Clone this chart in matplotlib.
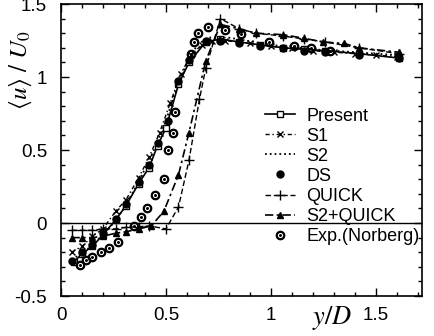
import matplotlib
matplotlib.use('Agg')
import matplotlib.pyplot as plt
from matplotlib.ticker import MultipleLocator, FuncFormatter

plt.rcParams['font.family'] = ['Liberation Sans', 'DejaVu Sans']
plt.rcParams['mathtext.fontset'] = 'stix'

present_x = [0.06, 0.10, 0.15, 0.20, 0.26, 0.31, 0.37, 0.42, 0.46, 0.50, 0.56, 0.61, 0.69, 0.76, 0.85, 0.95, 1.06, 1.16, 1.26, 1.42, 1.61]
present_y = [-0.27, -0.21, -0.16, -0.08, 0.02, 0.12, 0.27, 0.38, 0.53, 0.65, 0.95, 1.10, 1.24, 1.26, 1.24, 1.22, 1.20, 1.19, 1.18, 1.16, 1.13]

ds_x = [0.05, 0.10, 0.15, 0.20, 0.26, 0.31, 0.37, 0.42, 0.46, 0.51, 0.56, 0.61, 0.69, 0.76, 0.85, 0.95, 1.06, 1.16, 1.26, 1.42, 1.61]
ds_y = [-0.26, -0.20, -0.15, -0.07, 0.03, 0.13, 0.28, 0.40, 0.55, 0.70, 0.97, 1.12, 1.25, 1.25, 1.23, 1.21, 1.20, 1.18, 1.17, 1.15, 1.13]

s1_x = [0.05, 0.10, 0.15, 0.20, 0.26, 0.31, 0.37, 0.42, 0.47, 0.52, 0.57, 0.62, 0.67, 0.72, 0.78, 0.90, 1.00, 1.10, 1.20, 1.30, 1.40, 1.50, 1.60]
s1_y = [-0.20, -0.16, -0.09, -0.04, 0.08, 0.16, 0.31, 0.45, 0.62, 0.82, 1.02, 1.15, 1.22, 1.25, 1.25, 1.23, 1.21, 1.20, 1.18, 1.17, 1.16, 1.15, 1.14]

s2_x = [0.05, 0.10, 0.15, 0.20, 0.25, 0.30, 0.35, 0.40, 0.45, 0.50, 0.55, 0.60, 0.65, 0.70, 0.80, 1.00, 1.20, 1.40, 1.60]
s2_y = [-0.25, -0.21, -0.15, -0.08, 0.00, 0.10, 0.23, 0.37, 0.52, 0.70, 0.92, 1.10, 1.22, 1.27, 1.27, 1.22, 1.19, 1.17, 1.15]

quick_x = [0.05, 0.10, 0.15, 0.20, 0.26, 0.31, 0.37, 0.42, 0.50, 0.56, 0.61, 0.66, 0.69, 0.76, 0.85, 0.93, 1.06, 1.16, 1.26, 1.42, 1.61]
quick_y = [-0.05, -0.05, -0.05, -0.04, -0.04, -0.03, -0.025, -0.02, -0.04, 0.11, 0.43, 0.85, 1.06, 1.40, 1.33, 1.30, 1.28, 1.26, 1.24, 1.20, 1.16]

s2q_x = [0.05, 0.10, 0.15, 0.20, 0.26, 0.31, 0.37, 0.43, 0.49, 0.56, 0.61, 0.69, 0.76, 0.85, 0.93, 1.06, 1.16, 1.25, 1.35, 1.42, 1.61]
s2q_y = [-0.10, -0.10, -0.10, -0.09, -0.07, -0.06, -0.04, -0.02, 0.08, 0.33, 0.62, 1.11, 1.36, 1.33, 1.30, 1.29, 1.265, 1.24, 1.23, 1.20, 1.17]

exp_x = [0.09, 0.12, 0.15, 0.19, 0.23, 0.27, 0.35, 0.38, 0.41, 0.45, 0.49, 0.51, 0.535, 0.545, 0.62, 0.635, 0.655, 0.70, 0.78, 0.86, 0.99, 1.11, 1.19, 1.28]
exp_y = [-0.29, -0.25, -0.235, -0.20, -0.17, -0.13, -0.02, 0.04, 0.10, 0.19, 0.30, 0.50, 0.62, 0.76, 1.16, 1.24, 1.30, 1.345, 1.32, 1.295, 1.24, 1.21, 1.20, 1.18]

fig = plt.figure(figsize=(4.34, 3.36), dpi=100)
ax = fig.add_axes([0.1406, 0.119, 0.8314, 0.869])

ax.axhline(0, color='black', lw=1.0)

ax.plot(present_x, present_y, 'k-', marker='s', mfc='white', ms=5, lw=1.2, label='Present')
ax.plot(s1_x, s1_y, color='black', ls=(0, (3, 2, 1, 2)), marker='x', ms=5, lw=1.0, label='S1')
ax.plot(s2_x, s2_y, color='black', ls=':', lw=1.3, label='S2')
ax.plot(ds_x, ds_y, 'ko', ms=5, ls='none', label='DS')
ax.plot(quick_x, quick_y, color='black', ls=(0, (4, 2)), marker='+', ms=7, lw=1.0, label='QUICK')
ax.plot(s2q_x, s2q_y, color='black', ls=(0, (5, 2, 1.5, 2)), marker='^', ms=5, lw=1.2, label='S2+QUICK')
ax.plot(exp_x, exp_y, color='black', ls='none', marker=r'$\odot$', ms=6, label='Exp.(Norberg)')

ax.set_xlim(0, 1.72)
ax.set_ylim(-0.5, 1.5)
ax.xaxis.set_major_locator(MultipleLocator(0.5))
ax.xaxis.set_minor_locator(MultipleLocator(0.1))
ax.yaxis.set_major_locator(MultipleLocator(0.5))
ax.yaxis.set_minor_locator(MultipleLocator(0.1))
fmt = FuncFormatter(lambda v, p: '%g' % v)
ax.xaxis.set_major_formatter(fmt)
ax.yaxis.set_major_formatter(fmt)
ax.tick_params(which='both', direction='in', top=True, right=True, labelsize=13.5, width=1.0)
ax.tick_params(axis='y', which='major', length=6, pad=10)
ax.tick_params(axis='x', which='major', length=6, pad=8)
ax.tick_params(which='minor', length=3)
for s in ax.spines.values():
    s.set_linewidth(1.2)

fig.text(0.048, 0.79, r'$\langle u\rangle\ /\ U_0$', rotation=90, fontsize=18, ha='center', va='center')
fig.text(0.765, 0.055, r'$y/D$', fontsize=19, ha='center', va='center')

ax.legend(loc='upper left', bbox_to_anchor=(0.545, 0.67), frameon=False, fontsize=13,
          handlelength=1.65, handletextpad=0.65, labelspacing=0.17, borderaxespad=0)

fig.savefig('out.png', dpi=100)
